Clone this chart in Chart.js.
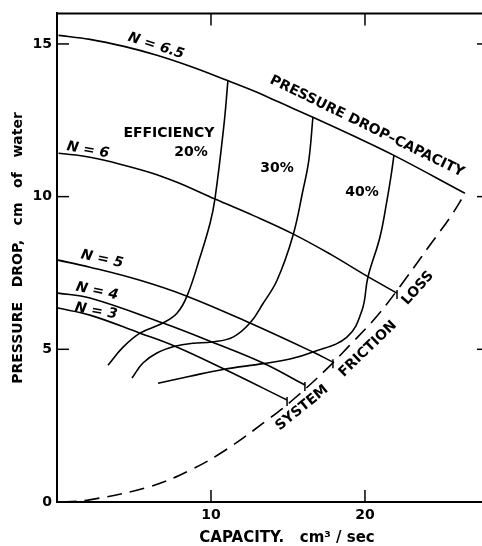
<!DOCTYPE html>
<html>
<head>
<meta charset="utf-8">
<script src="https://cdn.jsdelivr.net/npm/chart.js@4.4.1/dist/chart.umd.min.js"></script>
<style>
  html, body { margin: 0; padding: 0; background: #fff; }
  canvas { display: block; }
</style>
</head>
<body>
<canvas id="chart" width="482" height="546"></canvas>
<script>
// Courbes pression / débit pour chaque N  [capacité, pression]
const curveN65 = [[0.1, 15.28], [2.14, 15.15], [4.35, 14.92], [6.49, 14.63], [8.64, 14.27], [11.04, 13.81], [12.99, 13.42], [14.29, 13.12], [16.62, 12.60], [19.2, 12.0], [21.88, 11.35], [26.49, 10.11]];
const curveN6 = [[0.1, 11.42], [2.14, 11.29], [4.35, 11.03], [6.49, 10.72], [7.99, 10.43], [10.26, 9.92], [12.8, 9.37], [15.32, 8.78], [17.8, 8.10], [20.19, 7.38], [22.08, 6.84]];
const curveN5 = [[0.06, 7.92], [2.14, 7.69], [5.39, 7.26], [8.44, 6.74], [12.53, 5.86], [16.62, 4.91], [17.92, 4.58]];
const curveN4 = [[0.06, 6.84], [2.14, 6.68], [6.88, 5.86], [10.06, 5.24], [13.38, 4.55], [16.1, 3.83]];
const curveN3 = [[0.06, 6.35], [2.14, 6.12], [5.39, 5.53], [7.66, 5.10], [10.78, 4.37], [14.94, 3.34]];

// Courbes d'efficacité
const eff20 = [[11.1, 13.80], [10.84, 12.34], [10.25, 9.9], [9.94, 9.13], [9.29, 8.02], [8.44, 6.74], [7.79, 6.18], [6.88, 5.86], [5.39, 5.53], [4.29, 5.07], [3.31, 4.48]];
const eff30 = [[16.62, 12.60], [16.35, 11.18], [15.97, 10.2], [15.32, 8.72], [14.29, 7.26], [13.38, 6.5], [12.53, 5.86], [11.43, 5.40], [10.06, 5.24], [8.83, 5.20], [7.66, 5.10], [6.49, 4.88], [5.58, 4.55], [4.87, 4.06]];
const eff40 = [[21.88, 11.35], [21.7, 10.7], [21.43, 9.88], [20.97, 8.67], [20.19, 7.36], [19.81, 6.28], [18.83, 5.40], [16.62, 4.91], [15.13, 4.68], [13.38, 4.53], [10.78, 4.34], [8.64, 4.12], [6.56, 3.89]];

// Perte de charge du système (pointillés)
const systemLoss = [[0.3, 0], [2.1, 0.07], [6.0, 0.50], [8.6, 1.03], [11.0, 1.72], [13.8, 2.74], [15.3, 3.34], [17.4, 4.30], [19.0, 5.13], [20.8, 6.10], [22.7, 7.35], [24.2, 8.40], [25.5, 9.3], [26.5, 10.1]];

// Graduations
const xTickValues = [10, 20];
const yTickValues = [0, 5, 10, 15];

// Textes posés sur le graphique (coordonnées en unités des axes)
const notes = [
  { text: 'N = 6.5', x: 6.43, y: 14.93, angle: 18, font: 'italic bold 14px "DejaVu Sans"' },
  { text: 'N = 6', x: 2.01, y: 11.52, angle: 10, font: 'italic bold 14px "DejaVu Sans"' },
  { text: 'N = 5', x: 2.92, y: 7.95, angle: 12, font: 'italic bold 14px "DejaVu Sans"' },
  { text: 'N = 4', x: 2.60, y: 6.90, angle: 12, font: 'italic bold 14px "DejaVu Sans"' },
  { text: 'N = 3', x: 2.53, y: 6.25, angle: 10, font: 'italic bold 14px "DejaVu Sans"' },
  { text: 'EFFICIENCY', x: 7.27, y: 12.07, angle: 0, font: 'bold 14px "DejaVu Sans"' },
  { text: '20%', x: 8.70, y: 11.45, angle: 0, font: 'bold 14px "DejaVu Sans"' },
  { text: '30%', x: 14.29, y: 10.93, angle: 0, font: 'bold 14px "DejaVu Sans"' },
  { text: '40%', x: 19.81, y: 10.14, angle: 0, font: 'bold 14px "DejaVu Sans"' },
  { text: 'PRESSURE DROP–CAPACITY', x: 20.13, y: 12.30, angle: 26, font: 'bold 14px "DejaVu Sans"' },
  { text: 'SYSTEM', x: 15.91, y: 3.08, angle: -39, font: 'bold 14px "DejaVu Sans"' },
  { text: 'FRICTION', x: 20.19, y: 5.01, angle: -44, font: 'bold 14px "DejaVu Sans"' },
  { text: 'LOSS', x: 23.44, y: 7.00, angle: -48, font: 'bold 14px "DejaVu Sans"' },
  { text: 'CAPACITY.   cm³ / sec', x: 14.94, y: -1.18, angle: 0, font: 'bold 15px "DejaVu Sans"' }
];

function toPoints(pairs) {
  return pairs.map(p => ({ x: p[0], y: p[1] }));
}

function curve(pairs, dashed) {
  return {
    data: toPoints(pairs),
    borderColor: '#000',
    borderWidth: 1.6,
    borderDash: dashed ? [15, 8] : [],
    pointRadius: 0,
    tension: 0.4,
    fill: false
  };
}

// Cadre du haut, petites graduations intérieures, arrêts des courbes N et textes
const inkPlugin = {
  id: 'ink',
  afterDraw(chart) {
    const { ctx, chartArea, scales } = chart;
    const { left, right, top, bottom } = chartArea;
    const line = (x1, y1, x2, y2) => {
      ctx.beginPath();
      ctx.moveTo(x1, y1);
      ctx.lineTo(x2, y2);
      ctx.stroke();
    };
    ctx.save();
    ctx.strokeStyle = '#000';
    ctx.lineWidth = 2;
    line(left - 1, top, right, top);

    ctx.lineWidth = 1.5;
    xTickValues.forEach(v => {
      const px = scales.x.getPixelForValue(v);
      line(px, bottom, px, bottom - 12);
      line(px, top, px, top + 12);
    });
    yTickValues.filter(v => v > 0).forEach(v => {
      const py = scales.y.getPixelForValue(v);
      line(left, py, left + 12, py);
      line(right, py, right - 5, py);
    });

    // petit trait au bout des courbes N = 6 ... N = 3
    [curveN6, curveN5, curveN4, curveN3].forEach(c => {
      const last = c[c.length - 1];
      const px = scales.x.getPixelForValue(last[0]);
      const py = scales.y.getPixelForValue(last[1]);
      line(px, py - 3, px, py + 6);
    });

    ctx.fillStyle = '#000';
    ctx.textAlign = 'center';
    ctx.textBaseline = 'middle';
    notes.forEach(n => {
      ctx.save();
      ctx.translate(scales.x.getPixelForValue(n.x), scales.y.getPixelForValue(n.y));
      ctx.rotate(n.angle * Math.PI / 180);
      ctx.font = n.font;
      ctx.fillText(n.text, 0, 0);
      ctx.restore();
    });
    ctx.restore();
  }
};

const tickFont = { family: 'DejaVu Sans', weight: 'bold', size: 14 };

new Chart(document.getElementById('chart').getContext('2d'), {
  type: 'line',
  data: {
    datasets: [
      curve(curveN65), curve(curveN6), curve(curveN5), curve(curveN4), curve(curveN3),
      curve(eff20), curve(eff30), curve(eff40),
      curve(systemLoss, true)
    ]
  },
  options: {
    responsive: false,
    animation: false,
    devicePixelRatio: 1,
    layout: { padding: { top: 13, right: 0, left: 0, bottom: 0 } },
    plugins: { legend: { display: false }, tooltip: { enabled: false } },
    scales: {
      x: {
        type: 'linear',
        min: 0,
        max: 27.6,
        afterBuildTicks: s => { s.ticks = xTickValues.map(v => ({ value: v })); },
        afterFit: s => { s.height = 44; },
        grid: { display: false, drawTicks: false },
        border: { display: true, color: '#000', width: 2 },
        ticks: { color: '#000', font: tickFont, padding: 5, maxRotation: 0, autoSkip: false }
      },
      y: {
        type: 'linear',
        min: 0,
        max: 16,
        afterBuildTicks: s => { s.ticks = yTickValues.map(v => ({ value: v })); },
        afterFit: s => { s.width = 57; },
        grid: { display: false, drawTicks: false },
        border: { display: true, color: '#000', width: 2 },
        ticks: { color: '#000', font: tickFont, padding: 5, autoSkip: false },
        title: {
          display: true,
          text: '    PRESSURE   DROP,   cm   of   water',
          color: '#000',
          font: { family: 'DejaVu Sans', weight: 'bold', size: 14 },
          padding: { top: 10, bottom: 0 }
        }
      }
    }
  },
  plugins: [inkPlugin]
});
</script>
</body>
</html>
